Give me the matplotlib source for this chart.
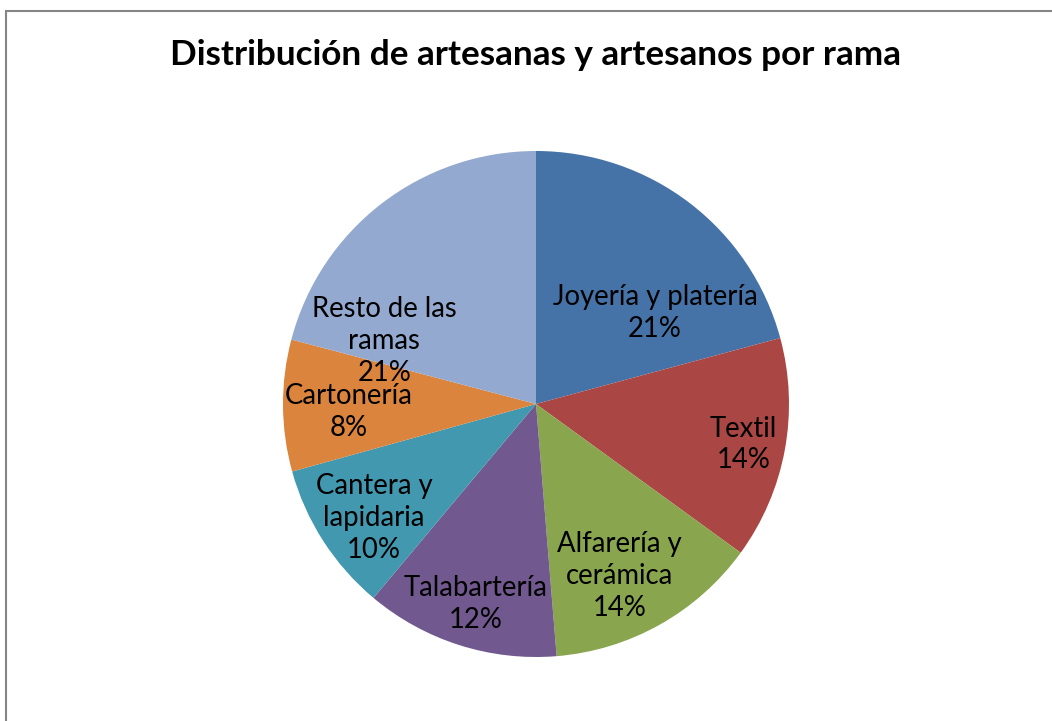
import matplotlib
matplotlib.use("Agg")
import matplotlib.pyplot as plt
from matplotlib.patches import Rectangle

plt.rcParams['font.family'] = ['Lato', 'DejaVu Sans']

# datos
ramas = ['Joyería y platería', 'Textil', 'Alfarería y\ncerámica', 'Talabartería',
         'Cantera y\nlapidaria', 'Cartonería', 'Resto de las\nramas']
valores = [20.8, 14.2, 13.7, 12.4, 9.6, 8.4, 20.9]
colores = ['#4572A7', '#AA4643', '#89A54E', '#71588F', '#4198AF', '#DB843D', '#93A9CF']

# posicion de las etiquetas (radio 1)
pos_etiquetas = [(0.47, 0.36), (0.82, -0.16), (0.33, -0.68), (-0.24, -0.79),
                 (-0.64, -0.45), (-0.74, -0.03), (-0.60, 0.25)]

fig = plt.figure(figsize=(10.52, 7.21), dpi=100)
fig.patches.append(Rectangle((6 / 1052, -0.1), 1.2, (721 - 11) / 721 + 0.1,
                             transform=fig.transFigure, fill=False,
                             edgecolor='#868686', linewidth=1.5))

ax = fig.add_axes([283 / 1052, 64 / 721, 506 / 1052, 506 / 721])
ax.pie(valores, colors=colores, startangle=90, counterclock=False, radius=1)
ax.set_xlim(-1, 1)
ax.set_ylim(-1, 1)
ax.set_aspect('equal')
ax.axis('off')

total = sum(valores)
for nombre, v, (x, y) in zip(ramas, valores, pos_etiquetas):
    ax.text(x, y, f"{nombre}\n{round(v / total * 100)}%", ha='center', va='center',
            fontsize=19.8, linespacing=1.28, color='black')

fig.text(536 / 1052, 1 - 55 / 721, 'Distribución de artesanas y artesanos por rama',
         ha='center', va='center', fontsize=25.3, fontweight='bold')

fig.savefig('out.png', dpi=100)
